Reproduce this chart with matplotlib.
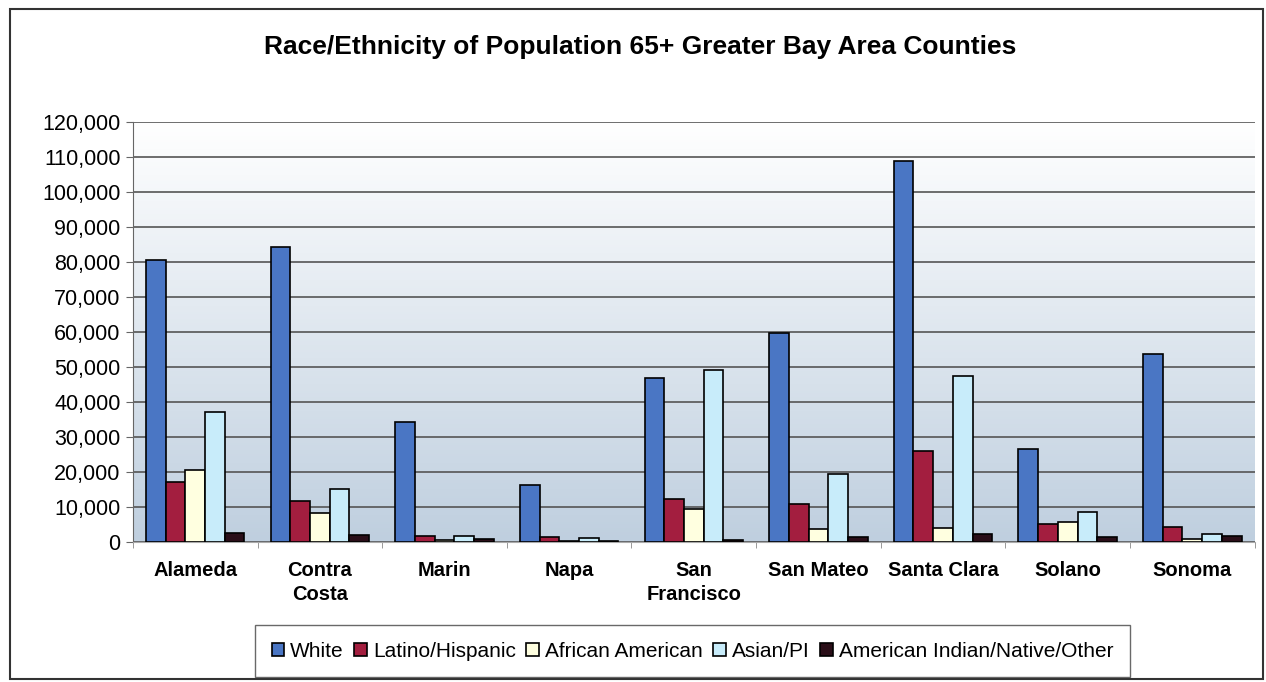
import numpy as np
import matplotlib
matplotlib.use('Agg')
import matplotlib.pyplot as plt
from matplotlib.patches import Rectangle
from matplotlib.ticker import FuncFormatter, MultipleLocator

plt.rcParams['font.family'] = ['Liberation Sans', 'DejaVu Sans']

counties = ['Alameda', 'Contra\nCosta', 'Marin', 'Napa', 'San\nFrancisco',
            'San Mateo', 'Santa Clara', 'Solano', 'Sonoma']
series = ['White', 'Latino/Hispanic', 'African American', 'Asian/PI',
          'American Indian/Native/Other']

white = [80500, 84300, 34300, 16300, 46900, 59700, 109000, 26600, 53700]
latino = [17100, 11700, 1700, 1500, 12300, 10900, 26000, 5100, 4400]
african_american = [20500, 8300, 500, 200, 9400, 3700, 4000, 5800, 900]
asian_pi = [37100, 15100, 1700, 1100, 49100, 19400, 47400, 8600, 2300]
other = [2600, 2000, 800, 200, 700, 1400, 2300, 1400, 1600]

colors = ['#4A76C4', '#A31E3F', '#FFFFE0', '#C8ECFA', '#2A0E18']
values = [white, latino, african_american, asian_pi, other]

fig = plt.figure(figsize=(12.66, 6.82), dpi=100)
ax = fig.add_axes([0.105, 0.2053, 0.886, 0.6158])

# gradient background of the plot area
grad = np.linspace(0, 1, 256).reshape(-1, 1)
cmap = matplotlib.colors.LinearSegmentedColormap.from_list('bg', ['#BFCFDF', '#FFFFFF'])
ax.imshow(grad, extent=[-0.5, len(counties) - 0.5, 0, 120000], origin='lower',
          aspect='auto', cmap=cmap, zorder=0)

x = np.arange(len(counties))
width = 0.158
for i, (name, vals, col) in enumerate(zip(series, values, colors)):
    ax.bar(x + (i - 2) * width, vals, width, color=col, edgecolor='black',
           linewidth=1.2, label=name, zorder=3)

ax.set_xlim(-0.5, len(counties) - 0.5)
ax.set_ylim(0, 120000)
ax.yaxis.set_major_locator(MultipleLocator(10000))
ax.yaxis.set_major_formatter(FuncFormatter(lambda v, p: f'{int(v):,}'))
ax.grid(axis='y', color='#555555', linewidth=1.2, zorder=1)
ax.set_axisbelow(True)

ax.set_xticks(x)
ax.set_xticklabels(counties, fontsize=14.5, fontweight='bold', linespacing=1.3)
ax.tick_params(axis='x', length=0, pad=14)
ax.set_xticks(np.arange(-0.5, len(counties)), minor=True)
ax.tick_params(axis='x', which='minor', length=4, color='#888888')
ax.tick_params(axis='y', labelsize=15.5, length=5, color='#666666', pad=4)

for side in ['top', 'right']:
    ax.spines[side].set_visible(False)
ax.spines['left'].set_color('#666666')
ax.spines['bottom'].set_color('#aaaaaa')

fig.text(0.506, 0.931, 'Race/Ethnicity of Population 65+ Greater Bay Area Counties',
         ha='center', va='center', fontsize=19, fontweight='bold')

leg = fig.legend(loc='center', bbox_to_anchor=(0.547, 0.045), ncol=5, fontsize=15,
                 frameon=True, fancybox=False, edgecolor='#444444',
                 handlelength=0.6, handleheight=0.6, handletextpad=0.3,
                 columnspacing=0.5, borderpad=0.8)
leg.get_frame().set_linewidth(1.0)

# outer chart border
fig.patches.append(Rectangle((0.008, 0.005), 0.99, 0.982, transform=fig.transFigure,
                             fill=False, edgecolor='#333333', linewidth=1.5))

fig.savefig('out.png', dpi=100)
